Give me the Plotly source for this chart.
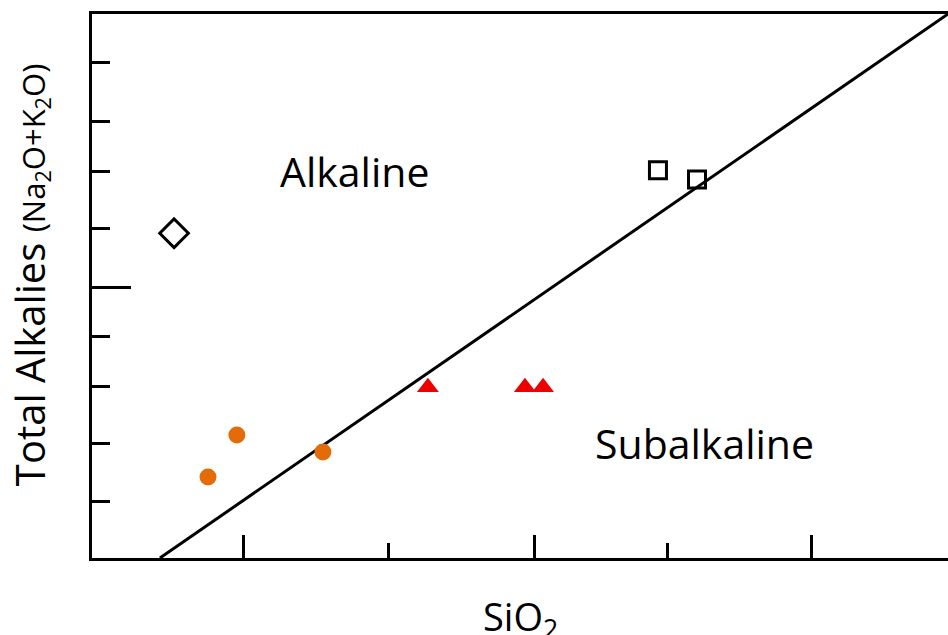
import plotly.graph_objects as go

# Sample groups: SiO2 (wt%) vs total alkalies (wt%)
diamond_sio2 = [42.44]
diamond_alk = [5.97]

square_sio2 = [59.54, 60.92]
square_alk = [7.13, 6.96]

circle_sio2 = [44.66, 43.64, 47.70]
circle_alk = [2.26, 1.49, 1.95]

triangle_sio2 = [51.41, 54.84, 55.48]
triangle_alk = [3.14, 3.14, 3.14]

# Alkaline / subalkaline dividing line
divide_sio2 = [41.94, 69.79]
divide_alk = [0.0, 10.0]

x_range = [39.54, 69.79]
y_range = [0, 10]
x_major = [44.91, 55.16, 64.98]
x_minor = [50.03, 59.89]
y_major = [4.98]
y_minor = [1.03, 2.10, 3.16, 4.08, 6.05, 7.11, 8.03, 9.10]

FONT = "Open Sans"

fig = go.Figure()

fig.add_trace(go.Scatter(
    x=divide_sio2, y=divide_alk, mode="lines",
    line=dict(color="black", width=3), hoverinfo="skip", showlegend=False))

fig.add_trace(go.Scatter(
    x=diamond_sio2, y=diamond_alk, mode="markers", showlegend=False,
    marker=dict(symbol="diamond-open", size=22, color="black",
                line=dict(color="black", width=3))))

fig.add_trace(go.Scatter(
    x=square_sio2, y=square_alk, mode="markers", showlegend=False,
    marker=dict(symbol="square-open", size=17, color="black",
                line=dict(color="black", width=3))))

fig.add_trace(go.Scatter(
    x=circle_sio2, y=circle_alk, mode="markers", showlegend=False,
    marker=dict(symbol="circle", size=17, color="#E36C09",
                line=dict(width=0))))

fig.add_trace(go.Scatter(
    x=triangle_sio2, y=triangle_alk, mode="markers", showlegend=False,
    marker=dict(symbol="triangle-up", size=19, color="#EE0000",
                line=dict(width=0))))

fig.update_xaxes(
    range=x_range, showgrid=False, zeroline=False, showticklabels=False,
    showline=True, linecolor="black", linewidth=3, mirror=True,
    ticks="inside", tickmode="array", tickvals=x_major, ticklen=23,
    tickwidth=3, tickcolor="black",
    minor=dict(tickmode="array", tickvals=x_minor, ticks="inside",
               ticklen=15, tickwidth=3, tickcolor="black", showgrid=False))

fig.update_yaxes(
    range=y_range, showgrid=False, zeroline=False, showticklabels=False,
    showline=True, linecolor="black", linewidth=3, mirror=False,
    ticks="inside", tickmode="array", tickvals=y_major, ticklen=39,
    tickwidth=3, tickcolor="black",
    minor=dict(tickmode="array", tickvals=y_minor, ticks="inside",
               ticklen=18, tickwidth=3, tickcolor="black", showgrid=False))

annotations = [
    dict(x=48.80, y=7.12, xref="x", yref="y", text="Alkaline",
         showarrow=False, font=dict(family=FONT, size=41, color="black")),
    dict(x=61.17, y=2.11, xref="x", yref="y", text="Subalkaline",
         showarrow=False, font=dict(family=FONT, size=41, color="black")),
    dict(x=0.5, y=-0.112, xref="paper", yref="paper", text="SiO<sub>2</sub>",
         xanchor="center", yanchor="middle",
         showarrow=False, font=dict(family=FONT, size=38, color="black")),
    dict(x=-0.0724, y=0.52, xref="paper", yref="paper", textangle=-90,
         xanchor="center", yanchor="middle",
         text="Total Alkalies <span style='font-size:31px'>(Na<sub>2</sub>O+K<sub>2</sub>O)</span>",
         showarrow=False, font=dict(family=FONT, size=40, color="black")),
]

fig.update_layout(
    width=948, height=635,
    margin=dict(l=92, r=0, t=14, b=77),
    paper_bgcolor="white", plot_bgcolor="white",
    annotations=annotations, showlegend=False)

fig.write_html("out.html")
